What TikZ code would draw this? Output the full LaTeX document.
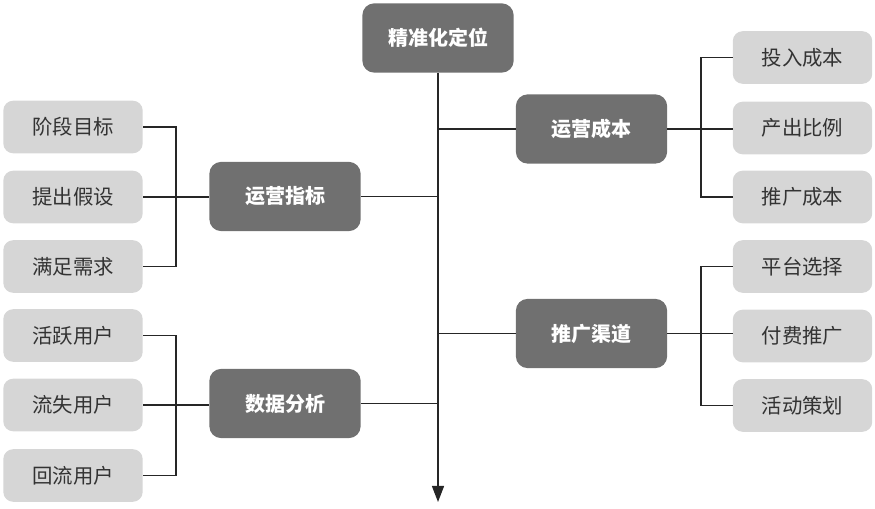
\documentclass[tikz,border=0pt]{standalone}
\usepackage{fontspec}
\setmainfont{Noto Sans CJK SC}
\usetikzlibrary{arrows.meta}
\definecolor{darkbox}{HTML}{707070}
\definecolor{lightbox}{HTML}{D6D6D6}
\definecolor{leaftext}{HTML}{333333}
\begin{document}
\begin{tikzpicture}[x=0.75pt,y=-0.75pt,
  mainbox/.style={fill=darkbox,rounded corners=9pt,minimum width=113.5pt,minimum height=52pt,
    inner sep=0pt,text=white,font=\fontsize{15pt}{18pt}\selectfont\bfseries},
  leafbox/.style={fill=lightbox,rounded corners=7.5pt,minimum width=104.6pt,minimum height=39.5pt,
    inner sep=0pt,text=leaftext,font=\fontsize{15.3pt}{18pt}\selectfont},
  link/.style={draw=black!85,line width=1pt}]
\useasboundingbox (0,0) rectangle (875,509);
% center
\node[mainbox] (top) at (438,38) {精准化定位};
\node[mainbox] (yyzb) at (285,196.5) {运营指标};
\node[mainbox] (sjfx) at (285,403.5) {数据分析};
\node[mainbox] (yycb) at (591.5,129) {运营成本};
\node[mainbox] (tgqd) at (591.5,333.5) {推广渠道};
% left leaves
\node[leafbox] (l1) at (73,127) {阶段目标};
\node[leafbox] (l2) at (73,197) {提出假设};
\node[leafbox] (l3) at (73,266.5) {满足需求};
\node[leafbox] (l4) at (73,335.5) {活跃用户};
\node[leafbox] (l5) at (73,405) {流失用户};
\node[leafbox] (l6) at (73,475.5) {回流用户};
% right leaves
\node[leafbox] (r1) at (802.5,57.5) {投入成本};
\node[leafbox] (r2) at (802.5,128) {产出比例};
\node[leafbox] (r3) at (802.5,197) {推广成本};
\node[leafbox] (r4) at (802.5,266.5) {平台选择};
\node[leafbox] (r5) at (802.5,336) {付费推广};
\node[leafbox] (r6) at (802.5,405.5) {活动策划};
% coordinates
\coordinate (bxL) at (176,0);
\coordinate (bxR) at (701,0);
\coordinate (trunkend) at (438,502);
% trunk
\draw[link,-{Triangle[width=9pt,length=12pt]}] (top.south) -- (trunkend);
\draw[link] (yyzb.east) -- (yyzb.east -| top.south);
\draw[link] (sjfx.east) -- (sjfx.east -| top.south);
\draw[link] (yycb.west) -- (yycb.west -| top.south);
\draw[link] (tgqd.west) -- (tgqd.west -| top.south);
% left brackets
\draw[link] (l1.east) -| (bxL |- l3.east) -- (l3.east);
\draw[link] (l2.east) -- (l2.east -| yyzb.west);
\draw[link] (l4.east) -| (bxL |- l6.east) -- (l6.east);
\draw[link] (l5.east) -- (l5.east -| sjfx.west);
% right brackets
\draw[link] (r1.west) -| (bxR |- r3.west) -- (r3.west);
\draw[link] (yycb.east) -- (yycb.east -| r2.west);
\draw[link] (r4.west) -| (bxR |- r6.west) -- (r6.west);
\draw[link] (tgqd.east) -- (tgqd.east -| r5.west);
\end{tikzpicture}
\end{document}
